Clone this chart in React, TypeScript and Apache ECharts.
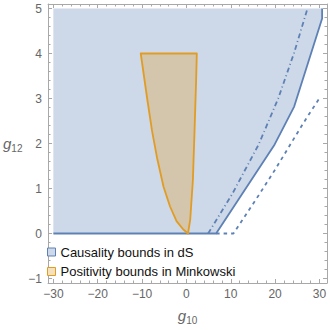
import React, { useEffect, useRef } from "react";
import * as echarts from "echarts";

const X_TICKS = [-30, -20, -10, 0, 10, 20, 30];
const X_MINOR = [-30, -28, -26, -24, -22, -20, -18, -16, -14, -12, -10, -8, -6, -4, -2, 0, 2, 4, 6, 8, 10, 12, 14, 16, 18, 20, 22, 24, 26, 28, 30];
const Y_TICKS = [-1, 0, 1, 2, 3, 4, 5];
const Y_MINOR = [-1, -0.8, -0.6, -0.4, -0.2, 0, 0.2, 0.4, 0.6, 0.8, 1, 1.2, 1.4, 1.6, 1.8, 2, 2.2, 2.4, 2.6, 2.8, 3, 3.2, 3.4, 3.6, 3.8, 4, 4.2, 4.4, 4.6, 4.8, 5];

const causalityRegion: number[][] = [[-30, 0], [6.7, 0], [19.9, 1.98], [24.3, 2.82], [30.6, 4.78], [30.6, 5], [-30, 5]];
const causalitySolid: number[][] = [[-30, 0], [6.7, 0], [19.9, 1.98], [24.3, 2.82], [30.6, 4.78], [30.6, 5]];
const causalityDashDot: number[][] = [[4.9, 0], [10.4, 0.89], [16.3, 1.98], [20.7, 3.0], [24.3, 4.02], [27.3, 5.0]];
const causalityDashed: number[][] = [[6.7, 0], [10.6, 0], [16.3, 0.85], [20, 1.42], [24.3, 2.12], [27.3, 2.6], [30.3, 3.05]];
const positivityRegion: number[][] = [
  [-10.3, 4], [2.34, 4], [2.18, 3.37], [1.83, 2.28], [1.46, 1.19], [0.86, 0.31], [0.35, 0],
  [-0.75, 0.094], [-2.23, 0.275], [-3.69, 0.6], [-5.16, 1.04], [-6.64, 1.69], [-7.75, 2.28], [-8.85, 3.0],
];

const NAME_CAUS = "Causality bounds in dS";
const NAME_POS = "Positivity bounds in Minkowski";

const BLUE = "#5E81B5";
const BLUE_FILL = "#cdd8e8";
const ORANGE = "#E19C24";
const FRAME = "#a8a8a8";
const LABEL = "#666666";
const FONT = "Liberation Sans, Arial, sans-serif";

const fmt = (v: number) => String(v).replace("-", "\u2212");

function polygonSeries(name: string, pts: number[][], style: any, itemStyle: any, z: number) {
  return {
    type: "custom",
    name,
    coordinateSystem: "cartesian2d",
    xAxisIndex: 0,
    yAxisIndex: 0,
    data: pts,
    encode: { x: 0, y: 1 },
    itemStyle,
    z,
    silent: true,
    renderItem: (params: any, api: any) => {
      if (params.dataIndex !== 0) return { type: "group", children: [] };
      const points = pts.map((p) => api.coord(p));
      return { type: "polygon", shape: { points }, style };
    },
  };
}

function lineSeries(name: string, pts: number[][], type: any, z: number) {
  return {
    type: "line",
    name,
    xAxisIndex: 0,
    yAxisIndex: 0,
    data: pts,
    showSymbol: false,
    symbol: "none",
    silent: true,
    z,
    lineStyle: { color: BLUE, width: 1.8, type },
  };
}

function xAxisDef(position: "bottom" | "top", major: boolean, labels: boolean, name?: boolean) {
  return {
    type: "value",
    position,
    min: -31.2,
    max: 31.7,
    splitLine: { show: false },
    axisLine: { show: major, onZero: false, lineStyle: { color: FRAME, width: 1 } },
    axisTick: {
      show: true,
      inside: true,
      length: major ? 4 : 2.5,
      customValues: major ? X_TICKS : X_MINOR,
      lineStyle: { color: FRAME, width: 1 },
    },
    axisLabel: {
      show: labels,
      customValues: X_TICKS,
      formatter: fmt,
      color: LABEL,
      fontSize: 12,
      fontFamily: FONT,
      margin: 5,
    },
    ...(name
      ? {
          name: "{g|g}{s|10}",
          nameLocation: "middle",
          nameGap: 22,
          nameTextStyle: {
            rich: {
              g: { fontSize: 15, fontStyle: "italic", color: LABEL, fontFamily: FONT, lineHeight: 20, verticalAlign: "middle" },
              s: { fontSize: 10, color: LABEL, fontFamily: FONT, lineHeight: 10, verticalAlign: "bottom" },
            },
          },
        }
      : {}),
  };
}

function yAxisDef(position: "left" | "right", major: boolean, labels: boolean, name?: boolean) {
  return {
    type: "value",
    position,
    min: -1.1,
    max: 5.1,
    splitLine: { show: false },
    axisLine: { show: major, onZero: false, lineStyle: { color: FRAME, width: 1 } },
    axisTick: {
      show: true,
      inside: true,
      length: major ? 4 : 2.5,
      customValues: major ? Y_TICKS : Y_MINOR,
      lineStyle: { color: FRAME, width: 1 },
    },
    axisLabel: {
      show: labels,
      customValues: Y_TICKS,
      formatter: fmt,
      color: LABEL,
      fontSize: 12,
      fontFamily: FONT,
      margin: 6,
    },
    ...(name
      ? {
          name: "{g|g}{s|12}",
          nameLocation: "middle",
          nameRotate: 0,
          nameGap: 25,
          nameTextStyle: {
            rich: {
              g: { fontSize: 15, fontStyle: "italic", color: LABEL, fontFamily: FONT, lineHeight: 20, verticalAlign: "middle" },
              s: { fontSize: 10, color: LABEL, fontFamily: FONT, lineHeight: 10, verticalAlign: "bottom" },
            },
          },
        }
      : {}),
  };
}

export default function App() {
  const ref = useRef<HTMLDivElement>(null);
  useEffect(() => {
    if (!ref.current) return;
    const chart = echarts.init(ref.current, undefined, { renderer: "svg" });
    chart.setOption({
      animation: false,
      backgroundColor: "#ffffff",
      grid: { left: 42, right: 3, top: 4, bottom: 42 },
      legend: {
        orient: "vertical",
        left: 47,
        top: 245,
        padding: 0,
        itemGap: 5.5,
        itemWidth: 8,
        itemHeight: 8,
        textStyle: { color: "#111", fontSize: 13, fontFamily: FONT, lineHeight: 14 },
        selectedMode: false,
        data: [
          { name: NAME_CAUS, icon: "rect", itemStyle: { color: BLUE_FILL, borderColor: BLUE, borderWidth: 1 } },
          { name: NAME_POS, icon: "rect", itemStyle: { color: "#f6e1bd", borderColor: ORANGE, borderWidth: 1 } },
        ],
      },
      xAxis: [
        xAxisDef("bottom", true, true, true),
        xAxisDef("bottom", false, false),
        xAxisDef("top", true, false),
        xAxisDef("top", false, false),
      ],
      yAxis: [
        yAxisDef("left", true, true, true),
        yAxisDef("left", false, false),
        yAxisDef("right", true, false),
        yAxisDef("right", false, false),
      ],
      series: [
        polygonSeries(NAME_CAUS, causalityRegion, { fill: BLUE_FILL, stroke: "none" }, { color: BLUE_FILL, borderColor: BLUE }, 1),
        lineSeries(NAME_CAUS + " solid", causalitySolid, "solid", 3),
        lineSeries(NAME_CAUS + " dashdot", causalityDashDot, [5, 3, 1, 3], 3),
        lineSeries(NAME_CAUS + " dashed", causalityDashed, [3.5, 4], 3),
        polygonSeries(
          NAME_POS,
          positivityRegion,
          { fill: "rgba(225,156,36,0.3)", stroke: ORANGE, lineWidth: 1.8, lineJoin: "round" },
          { color: "#f6e1bd", borderColor: ORANGE },
          4
        ),
      ],
    });
    return () => chart.dispose();
  }, []);
  return <div ref={ref} style={{ position: "fixed", left: 0, top: 0, width: 330, height: 330 }} />;
}
